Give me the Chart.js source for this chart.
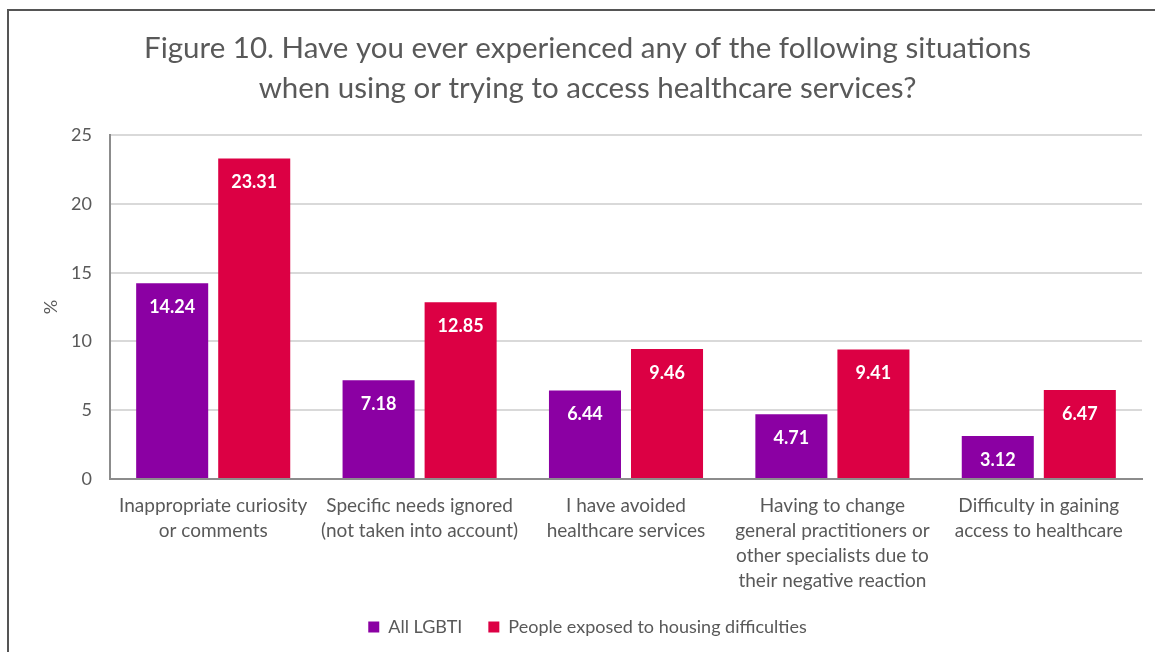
<!DOCTYPE html>
<html>
<head>
<meta charset="utf-8">
<script src="https://cdn.jsdelivr.net/npm/chart.js@4.4.1/dist/chart.umd.min.js"></script>
<style>
    html, body { margin: 0; padding: 0; background: #fff; }
    #wrap { position: relative; width: 1155px; height: 652px; }
    #frame { position: absolute; left: 7px; top: 9px; right: 0; bottom: 0; border-top: 2px solid #555; border-left: 2px solid #555; pointer-events: none; }
    #chart { position: absolute; left: 0; top: 0; }
</style>
</head>
<body>
<div id="wrap">
    <canvas id="chart" width="1155" height="652"></canvas>
    <div id="frame"></div>
</div>
<script>
const categories = [
    ['Inappropriate curiosity', 'or comments'],
    ['Specific needs ignored', '(not taken into account)'],
    ['I have avoided', 'healthcare services'],
    ['Having to change', 'general practitioners or', 'other specialists due to', 'their negative reaction'],
    ['Difficulty in gaining', 'access to healthcare']
];
const allLgbti = [14.24, 7.18, 6.44, 4.71, 3.12];
const housingDifficulties = [23.31, 12.85, 9.46, 9.41, 6.47];
const yTicks = [0, 5, 10, 15, 20, 25];

const FONT = 'Lato, "Open Sans", sans-serif';
const GREY = '#595959';

// white value labels just inside the top of each bar
const barValues = {
    id: 'barValues',
    afterDatasetsDraw(chart) {
        const ctx = chart.ctx;
        ctx.save();
        ctx.fillStyle = '#fff';
        ctx.font = 'bold 18px ' + FONT;
        ctx.textAlign = 'center';
        ctx.textBaseline = 'middle';
        chart.data.datasets.forEach((ds, i) => {
            chart.getDatasetMeta(i).data.forEach((bar, j) => {
                ctx.fillText(ds.data[j].toFixed(2), bar.x, bar.y + 24);
            });
        });
        ctx.restore();
    }
};

new Chart(document.getElementById('chart'), {
    type: 'bar',
    data: {
        labels: categories,
        datasets: [
            { label: 'All LGBTI', data: allLgbti, backgroundColor: '#8b00a3' },
            { label: 'People exposed to housing difficulties', data: housingDifficulties, backgroundColor: '#dc0044' }
        ]
    },
    options: {
        responsive: false,
        animation: false,
        categoryPercentage: 0.795,
        barPercentage: 0.878,
        layout: { padding: { left: 33, right: 13, top: 10, bottom: 6 } },
        plugins: {
            title: {
                display: true,
                text: ['Figure 10. Have you ever experienced any of the following situations',
                       'when using or trying to access healthcare services?'],
                color: GREY,
                font: { family: FONT, size: 29.5, weight: 'normal', lineHeight: 1.36 },
                padding: { top: 18, bottom: 27 }
            },
            legend: {
                position: 'bottom',
                labels: {
                    color: GREY,
                    font: { family: FONT, size: 18 },
                    boxWidth: 11,
                    boxHeight: 11,
                    padding: 26
                }
            },
            tooltip: { enabled: false }
        },
        scales: {
            x: {
                grid: { display: false },
                border: { color: '#8c8c8c', width: 2 },
                ticks: {
                    color: GREY,
                    font: { family: FONT, size: 19, lineHeight: 1.32 },
                    maxRotation: 0,
                    padding: 6
                },
                afterFit(scale) { scale.height = 113; }
            },
            y: {
                min: 0,
                max: 25,
                afterBuildTicks(scale) { scale.ticks = yTicks.map(v => ({ value: v })); },
                grid: { color: '#d9d9d9', lineWidth: 2, drawTicks: false },
                border: { color: '#8c8c8c', width: 2 },
                ticks: { color: GREY, font: { family: FONT, size: 18 }, padding: 18 },
                title: {
                    display: true,
                    text: '%',
                    color: GREY,
                    font: { family: FONT, size: 18 },
                    padding: { top: 7 }
                },
                afterFit(scale) { scale.width = 77; }
            }
        }
    },
    plugins: [barValues]
});
</script>
</body>
</html>
